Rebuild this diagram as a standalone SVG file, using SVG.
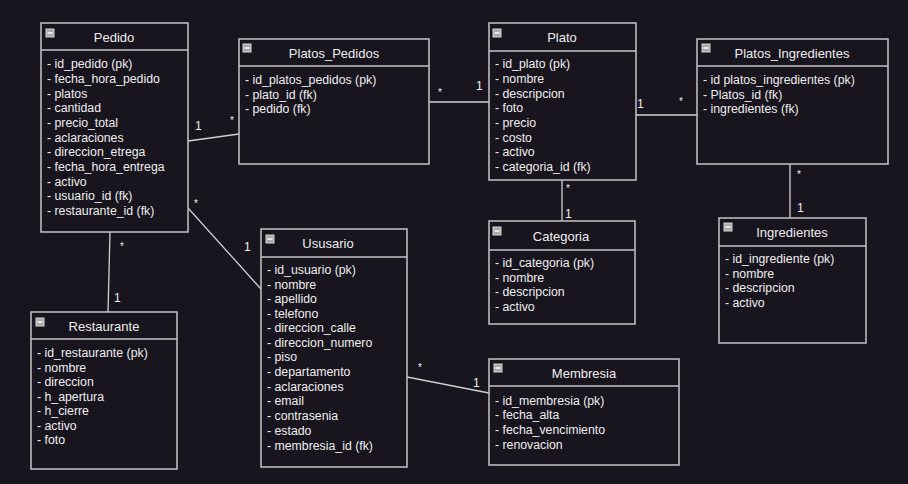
<svg xmlns="http://www.w3.org/2000/svg" width="908" height="484" viewBox="0 0 908 484">
<style>
.bg{fill:#18151e}
.box{fill:#18151e;stroke:#c4c4c4;stroke-width:1.5}
.sep{stroke:#c4c4c4;stroke-width:1.5}
.title{font-family:"Liberation Sans",Arial,sans-serif;font-size:13px;fill:#eeeeee;text-anchor:middle}
.item{font-family:"Liberation Sans",Arial,sans-serif;font-size:12.3px;fill:#eeeeee}
.lbl{font-family:"Liberation Sans",Arial,sans-serif;font-size:12px;fill:#eeeeee}
.star{font-family:"Liberation Sans",Arial,sans-serif;font-size:10px;fill:#eeeeee}
.conn{stroke:#d0d0d0;stroke-width:1.3;fill:none}
.ic{fill:#a8a8a8;stroke:#d8d8d8;stroke-width:1}
.icl{stroke:#ffffff;stroke-width:1.5}
</style>
<defs>
<g id="icon"><rect class="ic" x="0" y="0" width="8" height="8"/><line class="icl" x1="1.5" y1="4" x2="6.5" y2="4"/></g>
</defs>
<rect class="bg" x="0" y="0" width="908" height="484"/>

<g id="connectors">
<line class="conn" x1="188" y1="141" x2="239" y2="134"/>
<text class="lbl" x="195" y="130">1</text><text class="star" x="230" y="124">*</text>
<line class="conn" x1="429" y1="102" x2="489" y2="102"/>
<text class="star" x="438" y="96">*</text><text class="lbl" x="476" y="90">1</text>
<line class="conn" x1="636" y1="115" x2="697" y2="115"/>
<text class="lbl" x="637" y="108">1</text><text class="star" x="679" y="105">*</text>
<line class="conn" x1="562" y1="180" x2="562" y2="221"/>
<text class="star" x="566" y="192">*</text><text class="lbl" x="565" y="218">1</text>
<line class="conn" x1="790" y1="164" x2="790" y2="218"/>
<text class="star" x="797" y="178">*</text><text class="lbl" x="797" y="212">1</text>
<line class="conn" x1="110" y1="232" x2="108" y2="312"/>
<text class="star" x="120" y="250">*</text><text class="lbl" x="114" y="302">1</text>
<line class="conn" x1="188" y1="208" x2="261" y2="289"/>
<text class="star" x="194" y="207">*</text><text class="lbl" x="244" y="251">1</text>
<line class="conn" x1="407" y1="377" x2="489" y2="393"/>
<text class="star" x="418" y="371">*</text><text class="lbl" x="473" y="387">1</text>
</g>

<g id="pedido">
<rect class="box" x="41" y="23" width="147" height="209"/>
<line class="sep" x1="41" y1="50" x2="188" y2="50"/>
<use href="#icon" x="46" y="29"/>
<text class="title" x="114" y="42">Pedido</text>
<text class="item" x="47" y="68">- id_pedido (pk)</text>
<text class="item" x="47" y="83">- fecha_hora_pedido</text>
<text class="item" x="47" y="98">- platos</text>
<text class="item" x="47" y="112">- cantidad</text>
<text class="item" x="47" y="127">- precio_total</text>
<text class="item" x="47" y="142">- aclaraciones</text>
<text class="item" x="47" y="156">- direccion_etrega</text>
<text class="item" x="47" y="171">- fecha_hora_entrega</text>
<text class="item" x="47" y="186">- activo</text>
<text class="item" x="47" y="200">- usuario_id (fk)</text>
<text class="item" x="47" y="215">- restaurante_id (fk)</text>
</g>

<g id="platos_pedidos">
<rect class="box" x="239" y="39" width="190" height="125"/>
<line class="sep" x1="239" y1="66" x2="429" y2="66"/>
<use href="#icon" x="243" y="44"/>
<text class="title" x="334" y="58">Platos_Pedidos</text>
<text class="item" x="245" y="84">- id_platos_pedidos (pk)</text>
<text class="item" x="245" y="99">- plato_id (fk)</text>
<text class="item" x="245" y="113">- pedido (fk)</text>
</g>

<g id="plato">
<rect class="box" x="489" y="23" width="147" height="157"/>
<line class="sep" x1="489" y1="51" x2="636" y2="51"/>
<use href="#icon" x="493" y="29"/>
<text class="title" x="562" y="42">Plato</text>
<text class="item" x="495" y="68">- id_plato (pk)</text>
<text class="item" x="495" y="83">- nombre</text>
<text class="item" x="495" y="98">- descripcion</text>
<text class="item" x="495" y="112">- foto</text>
<text class="item" x="495" y="127">- precio</text>
<text class="item" x="495" y="142">- costo</text>
<text class="item" x="495" y="156">- activo</text>
<text class="item" x="495" y="171">- categoria_id (fk)</text>
</g>

<g id="platos_ingredientes">
<rect class="box" x="697" y="39" width="191" height="125"/>
<line class="sep" x1="697" y1="66" x2="888" y2="66"/>
<use href="#icon" x="702" y="44"/>
<text class="title" x="792" y="58">Platos_Ingredientes</text>
<text class="item" x="703" y="84">- id platos_ingredientes (pk)</text>
<text class="item" x="703" y="99">- Platos_id (fk)</text>
<text class="item" x="703" y="113">- ingredientes (fk)</text>
</g>

<g id="categoria">
<rect class="box" x="489" y="221" width="146" height="103"/>
<line class="sep" x1="489" y1="250" x2="635" y2="250"/>
<use href="#icon" x="493" y="227"/>
<text class="title" x="561" y="241">Categoria</text>
<text class="item" x="495" y="267">- id_categoria (pk)</text>
<text class="item" x="495" y="282">- nombre</text>
<text class="item" x="495" y="296">- descripcion</text>
<text class="item" x="495" y="311">- activo</text>
</g>

<g id="ingredientes">
<rect class="box" x="719" y="218" width="147" height="125"/>
<line class="sep" x1="719" y1="246" x2="866" y2="246"/>
<use href="#icon" x="724" y="223"/>
<text class="title" x="792" y="237">Ingredientes</text>
<text class="item" x="725" y="263">- id_ingrediente (pk)</text>
<text class="item" x="725" y="278">- nombre</text>
<text class="item" x="725" y="292">- descripcion</text>
<text class="item" x="725" y="307">- activo</text>
</g>

<g id="ususario">
<rect class="box" x="261" y="229" width="146" height="238"/>
<line class="sep" x1="261" y1="257" x2="407" y2="257"/>
<use href="#icon" x="266" y="235"/>
<text class="title" x="328" y="248">Ususario</text>
<text class="item" x="267" y="274">- id_usuario (pk)</text>
<text class="item" x="267" y="289">- nombre</text>
<text class="item" x="267" y="303">- apellido</text>
<text class="item" x="267" y="318">- telefono</text>
<text class="item" x="267" y="332">- direccion_calle</text>
<text class="item" x="267" y="347">- direccion_numero</text>
<text class="item" x="267" y="361">- piso</text>
<text class="item" x="267" y="376">- departamento</text>
<text class="item" x="267" y="391">- aclaraciones</text>
<text class="item" x="267" y="405">- email</text>
<text class="item" x="267" y="420">- contrasenia</text>
<text class="item" x="267" y="435">- estado</text>
<text class="item" x="267" y="450">- membresia_id (fk)</text>
</g>

<g id="restaurante">
<rect class="box" x="31" y="312" width="146" height="157"/>
<line class="sep" x1="31" y1="339" x2="177" y2="339"/>
<use href="#icon" x="36" y="318"/>
<text class="title" x="104" y="331">Restaurante</text>
<text class="item" x="37" y="357">- id_restaurante (pk)</text>
<text class="item" x="37" y="372">- nombre</text>
<text class="item" x="37" y="386">- direccion</text>
<text class="item" x="37" y="401">- h_apertura</text>
<text class="item" x="37" y="415">- h_cierre</text>
<text class="item" x="37" y="430">- activo</text>
<text class="item" x="37" y="444">- foto</text>
</g>

<g id="membresia">
<rect class="box" x="489" y="359" width="190" height="106"/>
<line class="sep" x1="489" y1="386" x2="679" y2="386"/>
<use href="#icon" x="494" y="364"/>
<text class="title" x="584" y="378">Membresia</text>
<text class="item" x="495" y="405">- id_membresia (pk)</text>
<text class="item" x="495" y="419">- fecha_alta</text>
<text class="item" x="495" y="434">- fecha_vencimiento</text>
<text class="item" x="495" y="449">- renovacion</text>
</g>
</svg>
